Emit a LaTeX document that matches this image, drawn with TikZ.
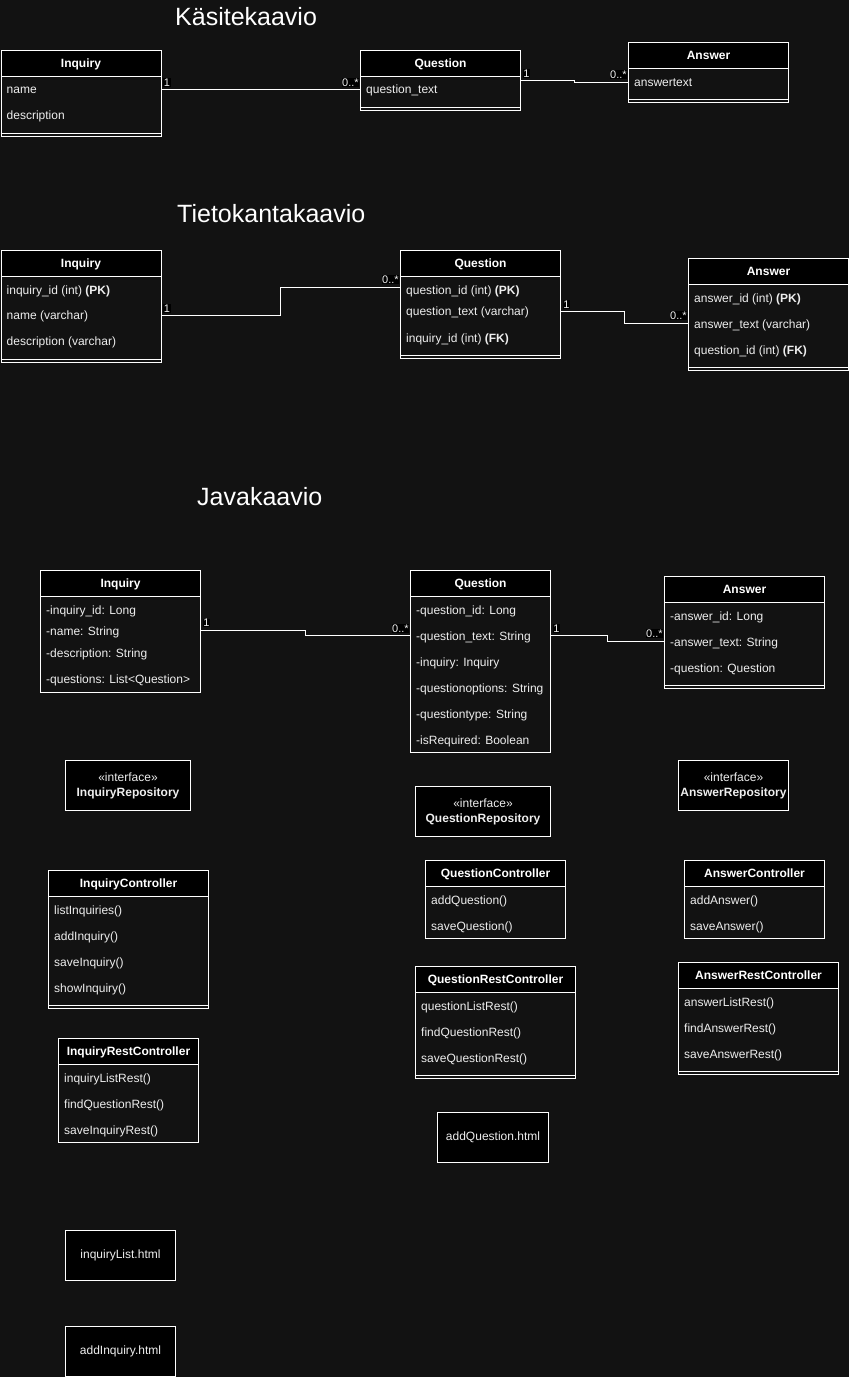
\documentclass[tikz,border=0pt]{standalone}
\usepackage{fontspec}
\setmainfont{Liberation Sans}
\usetikzlibrary{calc}
\definecolor{bg}{RGB}{18,18,18}
\definecolor{fg}{RGB}{238,238,238}
\tikzset{
 wline/.style={draw=white, line width=1pt},
 outer/.style={draw=white, line width=1pt, fill=bg, anchor=north west, inner sep=0pt},
 head/.style={draw=white, line width=1pt, fill=black, anchor=north west, inner sep=0pt, minimum height=26pt, text=white, font=\fontsize{12}{15}\selectfont\bfseries, text height=8.6pt, text depth=0pt},
 rowtxt/.style={anchor=west, inner sep=0pt, text height=8.6pt, text depth=0pt, text=fg, font=\fontsize{12}{15}\selectfont},
 edge/.style={draw=white, line width=1pt},
 lab/.style={fill=black, text=fg, inner sep=0.6pt, font=\fontsize{11}{11}\selectfont},
 iface/.style={draw=white, line width=1pt, fill=black, anchor=north west, inner sep=0pt, align=center, text=fg, font=\fontsize{12}{15}\selectfont},
 diagtitle/.style={anchor=base west, inner sep=0pt, text=white, font=\fontsize{25}{29}\selectfont},
}
\newcommand\umlbox[6]{%
 \node[outer, minimum width=#4pt, minimum height=#5pt] (#1) at (#2,#3) {};
 \node[head, minimum width=#4pt] (#1h) at (#2,#3) {#6};}
\newcommand\umlrow[4]{\node[rowtxt] (#1) at (#2+6,#3) {#4};}
\newcommand\umlsep[1]{\draw[wline] ([yshift=4pt]#1.south west) -- ([yshift=4pt]#1.south east);}
\newcommand\labone[1]{\node[lab, anchor=south west] at ([xshift=1.5pt,yshift=2.5pt]#1) {1};}
\newcommand\labmany[1]{\node[lab, anchor=south east] at ([xshift=-0.5pt,yshift=2.5pt]#1) {0..*};}
\begin{document}
\begin{tikzpicture}[x=1pt,y=-1pt]
\fill[bg] (0,0) rectangle (849,1377);
\useasboundingbox (0,0) rectangle (849,1377);

% ---------- Käsitekaavio ----------
\node[diagtitle] (t1) at (175,25) {Käsitekaavio};
\umlbox{kInq}{0.5}{50}{160}{86}{Inquiry}
\umlrow{kInqA}{0.5}{89.5}{name}
\umlrow{kInqB}{0.5}{115.5}{description}
\umlsep{kInq}
\umlbox{kQue}{360}{50}{160}{60}{Question}
\umlrow{kQueA}{360}{89.5}{question\_text}
\umlsep{kQue}
\umlbox{kAns}{628}{42}{160}{60}{Answer}
\umlrow{kAnsA}{628}{82}{answertext}
\umlsep{kAns}

\coordinate (e1s) at (kInq.east |- kInqA);
\coordinate (e1t) at (kQue.west |- kQueA);
\draw[edge] (e1s) -- (e1t);
\labone{e1s}\labmany{e1t}

\coordinate (e2s) at (kQue.east);
\coordinate (e2t) at (kAns.west |- kAnsA);
\coordinate (m2) at ($(e2s)!0.5!(e2t)$);
\draw[edge] (e2s) -- (e2s -| m2) -- (m2 |- e2t) -- (e2t);
\labone{e2s}\labmany{e2t}

% ---------- Tietokantakaavio ----------
\node[diagtitle] (t2) at (177,222) {Tietokantakaavio};
\umlbox{tInq}{0.5}{250}{160}{112}{Inquiry}
\umlrow{tInqA}{0.5}{290}{inquiry\_id (int) \textbf{(PK)}}
\umlrow{tInqB}{0.5}{315.5}{name (varchar)}
\umlrow{tInqC}{0.5}{341.5}{description (varchar)}
\umlsep{tInq}
\umlbox{tQue}{400}{250}{160}{108}{Question}
\umlrow{tQueA}{400}{290}{question\_id (int) \textbf{(PK)}}
\umlrow{tQueB}{400}{311.5}{question\_text (varchar)}
\umlrow{tQueC}{400}{338}{inquiry\_id (int) \textbf{(FK)}}
\umlsep{tQue}
\umlbox{tAns}{688}{258}{160}{112}{Answer}
\umlrow{tAnsA}{688}{298}{answer\_id (int) \textbf{(PK)}}
\umlrow{tAnsB}{688}{324}{answer\_text (varchar)}
\umlrow{tAnsC}{688}{350}{question\_id (int) \textbf{(FK)}}
\umlsep{tAns}

\coordinate (e3s) at (tInq.east |- tInqB);
\coordinate (e3t) at ($(tQue.west |- tQueA)+(0,-3)$);
\coordinate (m3) at ($(e3s)!0.5!(e3t)$);
\draw[edge] (e3s) -- (e3s -| m3) -- (m3 |- e3t) -- (e3t);
\labone{e3s}\labmany{e3t}

\coordinate (e4s) at (tQue.east |- tQueB);
\coordinate (e4t) at ($(tAns.west |- tAnsB)+(0,-1)$);
\coordinate (m4) at ($(e4s)!0.5!(e4t)$);
\draw[edge] (e4s) -- (e4s -| m4) -- (m4 |- e4t) -- (e4t);
\labone{e4s}\labmany{e4t}

% ---------- Javakaavio ----------
\node[diagtitle] (t3) at (197,505) {Javakaavio};
\umlbox{jInq}{40}{570}{160}{122}{Inquiry}
\umlrow{jInqA}{40}{610}{-inquiry\_id: Long}
\umlrow{jInqB}{40}{631.5}{-name: String}
\umlrow{jInqC}{40}{653.5}{-description: String}
\umlrow{jInqD}{40}{679.5}{-questions: List<Question>}
\umlbox{jQue}{410}{570}{140}{182}{Question}
\umlrow{jQueA}{410}{610}{-question\_id: Long}
\umlrow{jQueB}{410}{636}{-question\_text: String}
\umlrow{jQueC}{410}{662}{-inquiry: Inquiry}
\umlrow{jQueD}{410}{688}{-questionoptions: String}
\umlrow{jQueE}{410}{714}{-questiontype: String}
\umlrow{jQueF}{410}{740}{-isRequired: Boolean}
\umlbox{jAns}{664}{576}{160}{112}{Answer}
\umlrow{jAnsA}{664}{616}{-answer\_id: Long}
\umlrow{jAnsB}{664}{642}{-answer\_text: String}
\umlrow{jAnsC}{664}{668}{-question: Question}
\umlsep{jAns}

\coordinate (e5s) at ($(jInq.east |- jInqB)+(0,-1.5)$);
\coordinate (e5t) at ($(jQue.west |- jQueB)+(0,-0.5)$);
\coordinate (m5) at ($(e5s)!0.5!(e5t)$);
\draw[edge] (e5s) -- (e5s -| m5) -- (m5 |- e5t) -- (e5t);
\labone{e5s}\labmany{e5t}

\coordinate (e6s) at ($(jQue.east |- jQueB)+(0,-0.5)$);
\coordinate (e6t) at ($(jAns.west |- jAnsB)+(0,-1)$);
\coordinate (m6) at ($(e6s)!0.5!(e6t)$);
\draw[edge] (e6s) -- (e6s -| m6) -- (m6 |- e6t) -- (e6t);
\labone{e6s}\labmany{e6t}

% interfaces
\node[iface, minimum width=125pt, minimum height=50pt] (iInq) at (65,760) {«interface»\\\textbf{InquiryRepository}};
\node[iface, minimum width=135pt, minimum height=50pt] (iQue) at (415,786) {«interface»\\\textbf{QuestionRepository}};
\node[iface, minimum width=110pt, minimum height=50pt] (iAns) at (678,760) {«interface»\\\textbf{AnswerRepository}};

% controllers
\umlbox{cInq}{48}{870}{160}{138}{InquiryController}
\umlrow{cInqA}{48}{910}{listInquiries()}
\umlrow{cInqB}{48}{936}{addInquiry()}
\umlrow{cInqC}{48}{962}{saveInquiry()}
\umlrow{cInqD}{48}{988}{showInquiry()}
\umlsep{cInq}

\umlbox{rInq}{58}{1038}{140}{104}{InquiryRestController}
\umlrow{rInqA}{58}{1078}{inquiryListRest()}
\umlrow{rInqB}{58}{1104}{findQuestionRest()}
\umlrow{rInqC}{58}{1130}{saveInquiryRest()}

\umlbox{cQue}{425}{860}{140}{78}{QuestionController}
\umlrow{cQueA}{425}{900}{addQuestion()}
\umlrow{cQueB}{425}{926}{saveQuestion()}

\umlbox{cAns}{684}{860}{140}{78}{AnswerController}
\umlrow{cAnsA}{684}{900}{addAnswer()}
\umlrow{cAnsB}{684}{926}{saveAnswer()}

\umlbox{rQue}{415}{966}{160}{112}{QuestionRestController}
\umlrow{rQueA}{415}{1006}{questionListRest()}
\umlrow{rQueB}{415}{1032}{findQuestionRest()}
\umlrow{rQueC}{415}{1058}{saveQuestionRest()}
\umlsep{rQue}

\umlbox{rAns}{678}{962}{160}{112}{AnswerRestController}
\umlrow{rAnsA}{678}{1002}{answerListRest()}
\umlrow{rAnsB}{678}{1028}{findAnswerRest()}
\umlrow{rAnsC}{678}{1054}{saveAnswerRest()}
\umlsep{rAns}

% html pages
\node[iface, minimum width=111pt, minimum height=50pt] (hAddQ) at (437,1112) {addQuestion.html};
\node[iface, minimum width=110pt, minimum height=50pt] (hList) at (65,1230) {inquiryList.html};
\node[iface, minimum width=110pt, minimum height=50pt] (hAddI) at (65,1326) {addInquiry.html};
\end{tikzpicture}
\end{document}
